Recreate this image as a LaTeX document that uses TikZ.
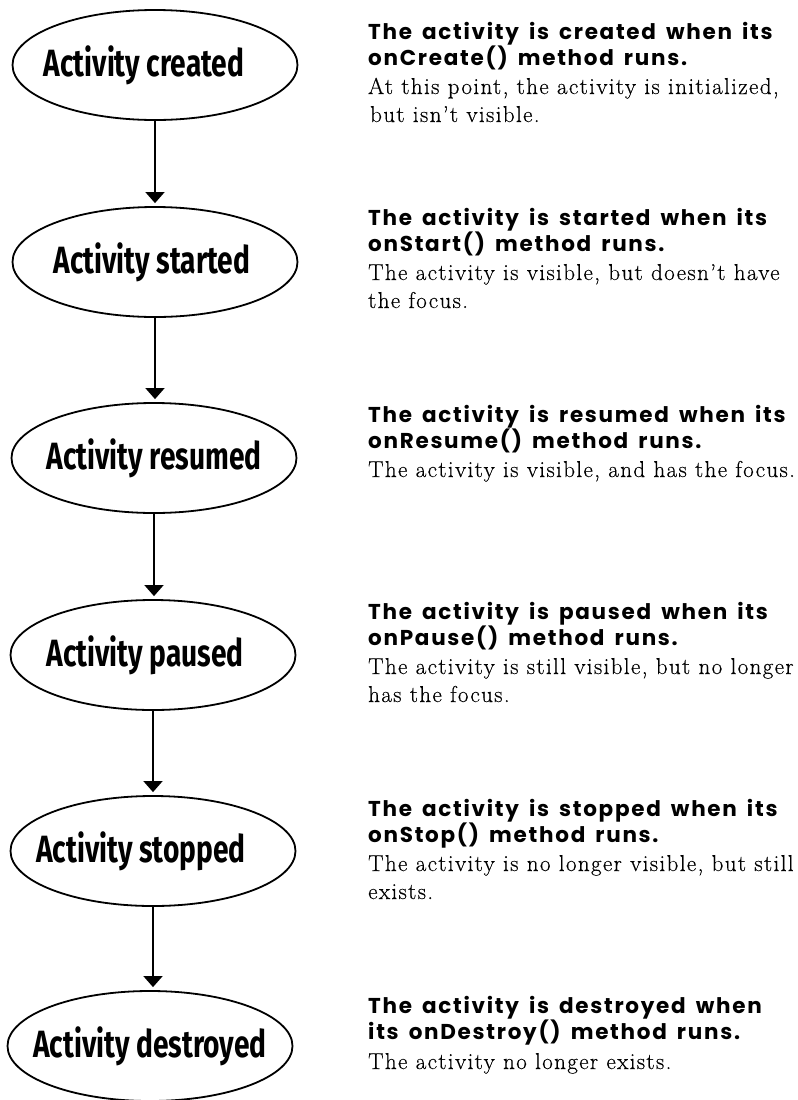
\documentclass[tikz,border=0pt]{standalone}
\usepackage{fontspec}
\usetikzlibrary{shapes.geometric,arrows.meta}
\newfontfamily\handfont[FakeStretch=0.74]{Fira Sans}
\newfontfamily\titlefont[LetterSpace=8,WordSpace=1.6]{Poppins}
\newfontfamily\bodyfont[LetterSpace=6,FakeBold=0.4]{Latin Modern Roman}
\newcommand{\lbl}[2][0bp]{\makebox[0pt]{#2\hspace*{#1}}}
\tikzset{
  state/.style={ellipse, draw, line width=1.8bp, minimum width=285bp, minimum height=110bp, inner sep=0pt,
    font=\handfont\bfseries\fontsize{38bp}{38bp}\selectfont},
  arr/.style={line width=1.7bp, -{Triangle[width=19bp,length=11bp]}, shorten >=3bp},
  ttl/.style={anchor=base west, inner sep=0pt, font=\titlefont\bfseries\fontsize{21.5bp}{21.5bp}\selectfont},
  bdy/.style={anchor=base west, inner sep=0pt, font=\bodyfont\fontsize{23bp}{23bp}\selectfont}
}
\begin{document}
\begin{tikzpicture}[x=1bp,y=-1bp]
\path[use as bounding box] (0,0) rectangle (798,1100);
\node[state] (cr) at (155,65) {\lbl[22bp]{Activity created}};
\node[state] (st) at (155,262) {\lbl[6bp]{Activity started}};
\node[state] (re) at (154,458) {\lbl{Activity resumed}};
\node[state] (pa) at (153,655) {\lbl[16bp]{Activity paused}};
\node[state] (so) at (153,851) {\lbl[24bp]{Activity stopped}};
\node[state] (de) at (150,1046) {\lbl{Activity destroyed}};
\draw[arr] (cr.south) -- (cr.south |- st.north);
\draw[arr] (st.south) -- (st.south |- re.north);
\draw[arr] (re.south) -- (re.south |- pa.north);
\draw[arr] (pa.south) -- (pa.south |- so.north);
\draw[arr] (so.south) -- (so.south |- de.north);
% block 1
\node[ttl] (t1a) at (368,39) {The activity is created when its};
\node[ttl] (t1b) at (368,65) {onCreate() method runs.};
\node[bdy] (b1a) at (368,94) {At this point, the activity is initialized,};
\node[bdy] (b1b) at (370,122) {but isn’t visible.};
% block 2
\node[ttl] (t2a) at (368,225) {The activity is started when its};
\node[ttl] (t2b) at (368,251) {onStart() method runs.};
\node[bdy] (b2a) at (368,280) {The activity is visible, but doesn’t have};
\node[bdy] (b2b) at (368,308) {the focus.};
% block 3
\node[ttl] (t3a) at (368,422) {The activity is resumed when its};
\node[ttl] (t3b) at (368,448) {onResume() method runs.};
\node[bdy] (b3a) at (368,477) {The activity is visible, and has the focus.};
% block 4
\node[ttl] (t4a) at (368,619) {The activity is paused when its};
\node[ttl] (t4b) at (368,645) {onPause() method runs.};
\node[bdy] (b4a) at (368,674) {The activity is still visible, but no longer};
\node[bdy] (b4b) at (368,702) {has the focus.};
% block 5
\node[ttl] (t5a) at (368,816) {The activity is stopped when its};
\node[ttl] (t5b) at (368,842) {onStop() method runs.};
\node[bdy] (b5a) at (368,871) {The activity is no longer visible, but still};
\node[bdy] (b5b) at (368,899) {exists.};
% block 6
\node[ttl] (t6a) at (368,1013) {The activity is destroyed when};
\node[ttl] (t6b) at (368,1039) {its onDestroy() method runs.};
\node[bdy] (b6a) at (368,1069) {The activity no longer exists.};
\end{tikzpicture}
\end{document}
